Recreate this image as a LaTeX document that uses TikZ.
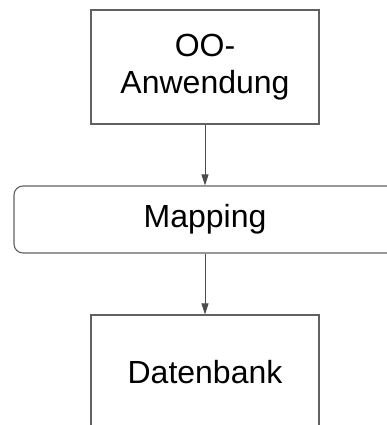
\documentclass[tikz,border=0pt]{standalone}
\usepackage{fontspec}
\setmainfont{Liberation Sans}
\usetikzlibrary{arrows.meta}
\begin{document}
\begin{tikzpicture}[x=1pt,y=-1pt,
  box/.style={draw=black!62,line width=1.1pt,fill=white,inner sep=0pt,
    font=\fontsize{32}{37}\selectfont,align=center},
  flow/.style={draw=black!70,line width=1pt,-{Triangle[length=11pt,width=7pt]}}]
\useasboundingbox (0,0) rectangle (387,425);
\clip (0,0) rectangle (387,425);
\fill[white] (0,0) rectangle (387,425);
\node[box,minimum width=228pt,minimum height=114pt] (app) at (205,67) {OO-\\Anwendung};
\node[box,rounded corners=9pt,minimum width=382pt,minimum height=67pt] (map) at (205,219.5) {Mapping};
\node[box,minimum width=228pt,minimum height=114pt] (db) at (205,372) {Datenbank};
\draw[flow] (app.south) -- (map.north);
\draw[flow] (map.south) -- (db.north);
\end{tikzpicture}
\end{document}
